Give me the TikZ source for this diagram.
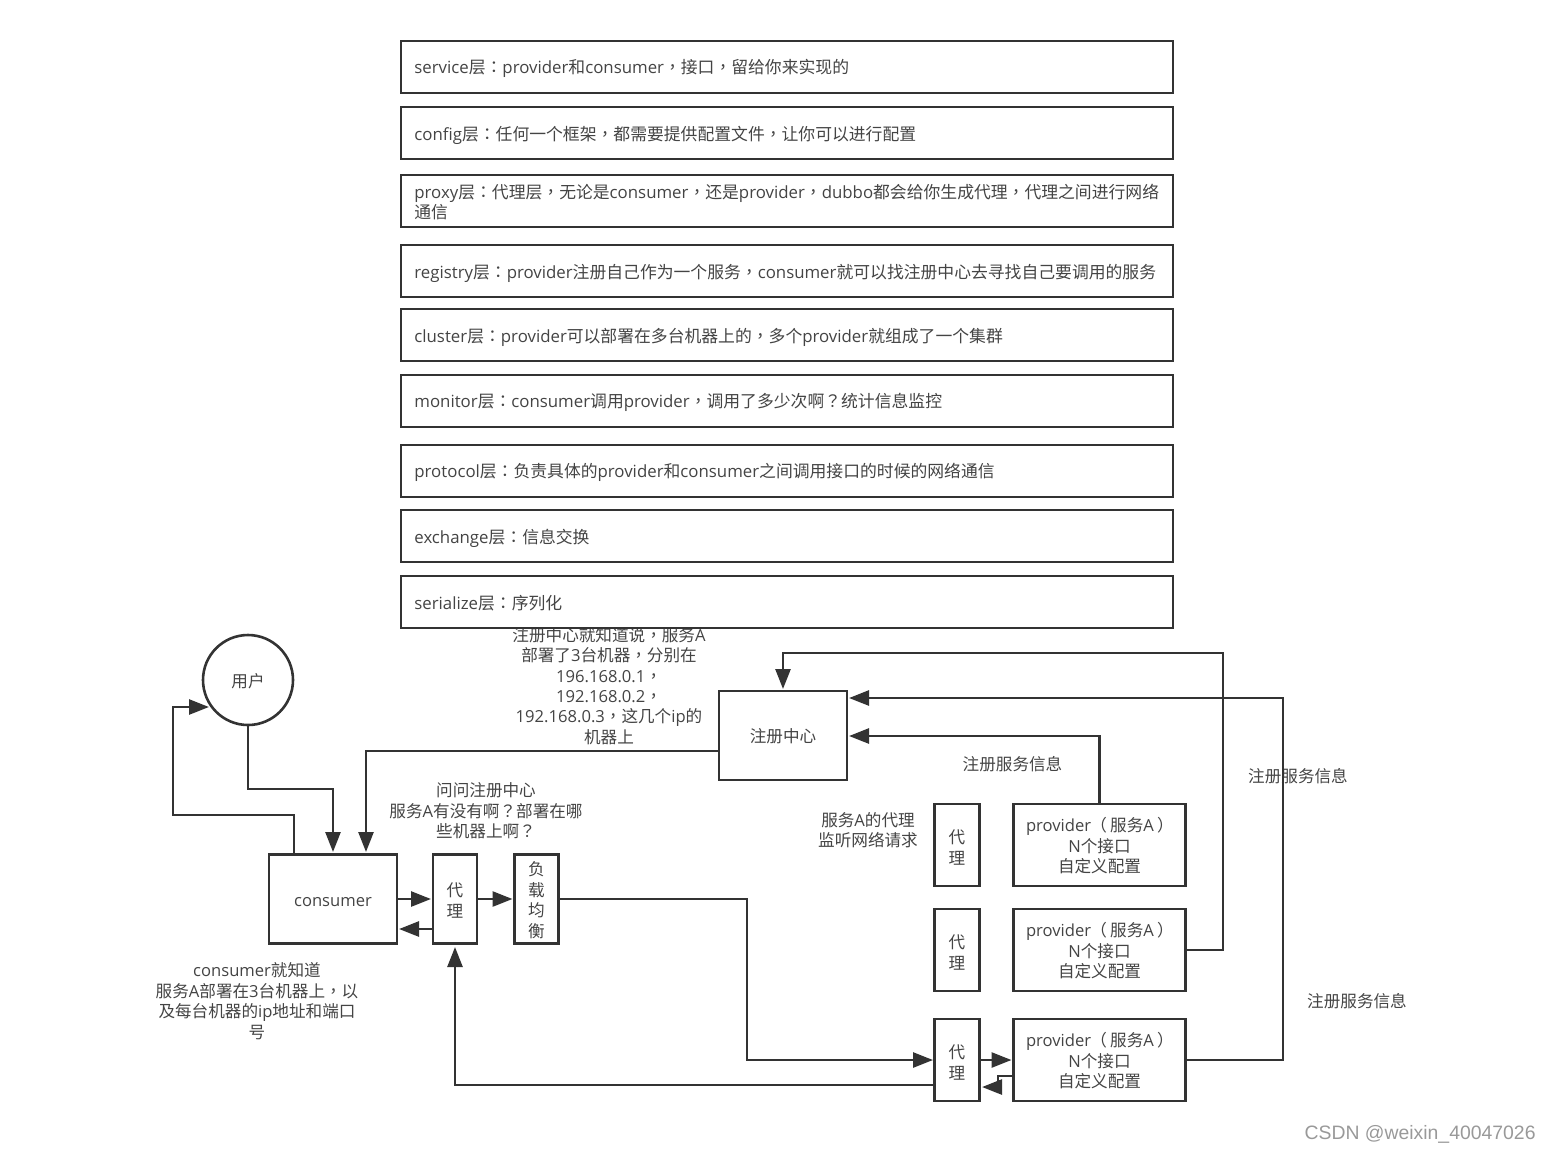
\documentclass[tikz,border=0pt]{standalone}
\usepackage{fontspec}
\usetikzlibrary{arrows.meta}
\setmainfont{Open Sans}
\newfontfamily\latinf{Open Sans}
\newfontfamily\cjkf{Noto Sans CJK SC}
\newfontfamily\puncf{Noto Sans CJK TC}
\newfontfamily\markf{Liberation Sans}
\newXeTeXintercharclass\clsc
\newXeTeXintercharclass\clsp
\newcount\tmpc
\tmpc="4E00
\loop\XeTeXcharclass\tmpc=\clsc\advance\tmpc 1 \ifnum\tmpc<"A000 \repeat
\XeTeXcharclass`，=\clsp
\XeTeXcharclass`：=\clsp
\XeTeXcharclass`？=\clsp
\XeTeXcharclass`（=\clsp
\XeTeXcharclass`）=\clsp
\XeTeXinterchartoks 0 \clsc={\cjkf}
\XeTeXinterchartoks 4095 \clsc={\cjkf}
\XeTeXinterchartoks \clsp \clsc={\cjkf}
\XeTeXinterchartoks 0 \clsp={\puncf}
\XeTeXinterchartoks 4095 \clsp={\puncf}
\XeTeXinterchartoks \clsc \clsp={\puncf}
\XeTeXinterchartoks \clsc 0={\latinf}
\XeTeXinterchartoks \clsp 0={\latinf}
\XeTeXinterchartoks \clsc 4095={\latinf}
\XeTeXinterchartoks \clsp 4095={\latinf}
\XeTeXinterchartokenstate=1
\newcommand\parL{\kern-.05em（\kern.2em}
\newcommand\parR{\kern.2em）\kern-.05em}
\newcommand\tup[1]{\rule{0pt}{#1}}
\definecolor{ink}{HTML}{333333}
\definecolor{txt}{HTML}{444444}
\definecolor{markgrey}{HTML}{999999}
\tikzset{
  basefont/.style={font=\fontsize{8.3}{10.25}\selectfont, text=txt},
  layerbox/.style={draw=ink, line width=1.3pt, fill=white, minimum width=386pt, minimum height=26pt, inner sep=0pt, outer sep=0pt},
  layertext/.style={font=\fontsize{8.41}{10.25}\selectfont, text=txt, anchor=west, align=left, inner sep=0pt},
  lift/.style={execute at begin node={\rule{0pt}{#1}}},
  blockbox/.style={draw=ink, line width=1.3pt, fill=white, inner sep=0pt, outer sep=0pt, align=center, basefont,
    lift=8.2pt, execute at end node={\rule[-1.2pt]{0pt}{0pt}}},
  note/.style={basefont, align=center, inner sep=0pt},
  flow/.style={draw=ink, line width=1.3pt, shorten >=1pt, -{Triangle[length=10pt,width=7.5pt]}},
}
\begin{document}
\begin{tikzpicture}[x=0.5pt,y=-0.5pt]
\useasboundingbox (0,0) rectangle (1551,1152);
% free note drawn first: its top line is cut by the box above it
\node[note, font=\fontsize{8.3}{10.15}\selectfont] (n1) at (609,686) {注册中心就知道说，服务A\\部署了3台机器，分别在\\196.168.0.1，\\192.168.0.2，\\192.168.0.3，这几个ip的\\机器上};
% layers
\node[layerbox] (l1) at (787,67) {};
\node[layerbox] (l2) at (787,133) {};
\node[layerbox] (l3) at (787,201) {};
\node[layerbox] (l4) at (787,271) {};
\node[layerbox] (l5) at (787,335) {};
\node[layerbox] (l6) at (787,401) {};
\node[layerbox] (l7) at (787,471) {};
\node[layerbox] (l8) at (787,536) {};
\node[layerbox] (l9) at (787,602) {};
\node[layertext] (t1) at (414,68) {service层：provider和consumer，接口，留给你来实现的};
\node[layertext] (t2) at (414,135) {config层：任何一个框架，都需要提供配置文件，让你可以进行配置};
\node[layertext] (t3) at (414,202) {proxy层：代理层，无论是consumer，还是provider，dubbo都会给你生成代理，代理之间进行网络\\通信};
\node[layertext] (t4) at (414,273) {registry层：provider注册自己作为一个服务，consumer就可以找注册中心去寻找自己要调用的服务};
\node[layertext] (t5) at (414,337) {cluster层：provider可以部署在多台机器上的，多个provider就组成了一个集群};
\node[layertext] (t6) at (414,402) {monitor层：consumer调用provider，调用了多少次啊？统计信息监控};
\node[layertext] (t7) at (414,472) {protocol层：负责具体的provider和consumer之间调用接口的时候的网络通信};
\node[layertext] (t8) at (414,538) {exchange层：信息交换};
\node[layertext] (t9) at (414,603) {serialize层：序列化};
% blocks
\node[blockbox, circle, minimum size=45pt] (user) at (248,680) {用户};
\node[blockbox, minimum width=64pt, minimum height=44.5pt] (reg) at (783,735.5) {注册中心};
\node[blockbox, lift=7.2pt, minimum width=64pt, minimum height=44.5pt] (cons) at (333,899) {consumer};
\node[blockbox, minimum width=22pt, minimum height=44.5pt] (px) at (455,899) {\tup{9.3pt}代\\理};
\node[blockbox, minimum width=22pt, minimum height=44.5pt] (lb) at (536.5,899) {\tup{8.8pt}负\\载\\均\\衡};
\node[blockbox, minimum width=22.5pt, minimum height=41pt] (p1) at (957,845) {\tup{10.3pt}代\\理};
\node[blockbox, minimum width=22.5pt, minimum height=41pt] (p2) at (957,950) {\tup{10.3pt}代\\理};
\node[blockbox, minimum width=22.5pt, minimum height=41pt] (p3) at (957,1060) {\tup{10.3pt}代\\理};
\node[blockbox, minimum width=86pt, minimum height=41pt] (s1) at (1099.5,845) {\tup{8.4pt}provider\parL 服务A\parR\\N个接口\\自定义配置};
\node[blockbox, minimum width=86pt, minimum height=41pt] (s2) at (1099.5,950) {\tup{8.4pt}provider\parL 服务A\parR\\N个接口\\自定义配置};
\node[blockbox, minimum width=86pt, minimum height=41pt] (s3) at (1099.5,1060) {\tup{8.4pt}provider\parL 服务A\parR\\N个接口\\自定义配置};
% notes
\node[note] (n2) at (486,811) {问问注册中心\\服务A有没有啊？部署在哪\\些机器上啊？};
\node[note] (n3) at (257,1001) {consumer就知道\\服务A部署在3台机器上，以\\及每台机器的ip地址和端口\\号};
\node[note] (n4) at (1012.5,764) {注册服务信息};
\node[note] (n5) at (868,830) {服务A的代理\\监听网络请求};
\node[note] (n6) at (1298,776) {注册服务信息};
\node[note] (n7) at (1357,1001) {注册服务信息};
\node[font=\markf\fontsize{9.7}{11}\selectfont, text=markgrey, anchor=east, inner sep=0pt] (wm) at (1536,1134) {CSDN @weixin\_40047026};
% connector ends
\coordinate (cTop1) at (333,854);
\coordinate (cTop2) at (294,854);
\coordinate (cTop3) at (366,854);
\coordinate (uIn) at (211,707);
\coordinate (regOut) at (719,751);
\coordinate (cR2) at (397,929);
\coordinate (pL2) at (433,929);
\coordinate (p3In) at (935,1060);
\coordinate (p3Out) at (935,1085);
\coordinate (pxIn) at (455,945);
\coordinate (s3Back) at (1014,1076);
\coordinate (p3Back) at (980,1087);
\coordinate (reg1) at (847,736);
\coordinate (reg3) at (847,698);
% connectors
\draw[flow] (user.south) -- (248,789) -- (333,789) -- (cTop1);
\draw[flow] (cTop2) -- (294,815) -- (173,815) -- (173,707) -- (uIn);
\draw[flow] (regOut) -- (366,751) -- (cTop3);
\draw[flow] (cons.east) -- (px.west);
\draw[flow] (pL2) -- (cR2);
\draw[flow] (px.east) -- (lb.west);
\draw[flow] (lb.east) -- (747,899) -- (747,1060) -- (p3In);
\draw[flow] (p3Out) -- (455,1085) -- (pxIn);
\draw[flow] (p3.east) -- (s3.west);
\draw[flow] (s3Back) -- (998,1076) -- (998,1087) -- (p3Back);
\draw[flow] (s1.north) |- (reg1);
\draw[flow] (s2.east) -- (1223,950) -- (1223,653) -- (783,653) -- (reg.north);
\draw[flow] (s3.east) -- (1283,1060) -- (1283,698) -- (reg3);
\end{tikzpicture}
\end{document}
